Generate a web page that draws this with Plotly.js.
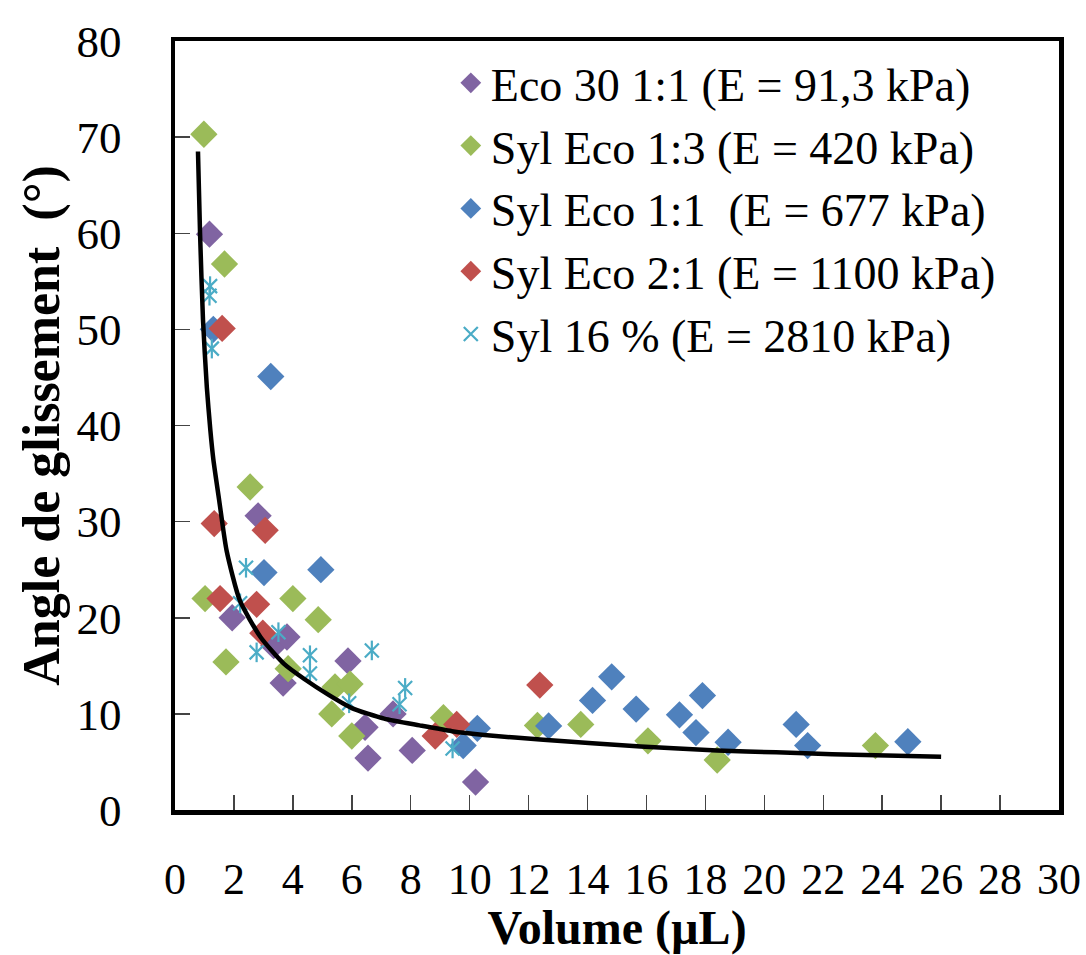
<!DOCTYPE html>
<html>
<head>
<meta charset="utf-8">
<script src="https://cdn.plot.ly/plotly-3.0.1.min.js"></script>
<style>html,body{margin:0;padding:0;background:#fff;}#chart{width:1086px;height:955px;}</style>
</head>
<body>
<div id="chart"></div>
<script>
// Series names
const seriesNames = [
  "Eco 30 1:1 (E = 91,3 kPa)",
  "Syl Eco 1:3 (E = 420 kPa)",
  "Syl Eco 1:1  (E = 677 kPa)",
  "Syl Eco 2:1 (E = 1100 kPa)",
  "Syl 16 % (E = 2810 kPa)"
];

// Eco 30 1:1
const purpleX = [1.17, 2.82, 1.94, 3.35, 3.8, 3.67, 5.87, 6.45, 6.55, 8.05, 7.4, 10.2];
const purpleY = [59.9, 30.6, 20.0, 17.1, 18.0, 13.2, 15.5, 8.6, 5.4, 6.2, 10.0, 2.9];

// Syl Eco 1:3
const greenX = [0.98, 1.68, 2.55, 1.02, 1.73, 4.0, 4.86, 3.84, 5.43, 5.94, 5.32, 6.0, 9.11, 12.3, 13.77, 16.05, 18.4, 23.77];
const greenY = [70.3, 56.8, 33.6, 22.0, 15.4, 22.0, 19.8, 14.7, 12.8, 13.1, 10.0, 7.7, 9.6, 8.8, 8.9, 7.2, 5.2, 6.7];

// Syl Eco 1:1
const blueX = [1.3, 3.25, 3.02, 4.95, 9.78, 10.26, 12.68, 14.17, 14.82, 15.65, 17.12, 17.68, 17.9, 18.77, 21.08, 21.47, 24.87];
const blueY = [50.0, 45.1, 24.7, 25.0, 6.7, 8.5, 8.75, 11.4, 13.85, 10.5, 9.9, 8.05, 11.9, 7.05, 8.9, 6.7, 7.1];

// Syl Eco 2:1
const redX = [1.6, 1.33, 3.06, 1.53, 2.77, 2.98, 8.83, 9.56, 12.38];
const redY = [50.1, 29.8, 29.1, 22.0, 21.4, 18.4, 7.7, 8.9, 13.0];

// Syl 16 %
const starX = [1.19, 1.17, 1.25, 2.41, 2.21, 2.77, 3.51, 4.58, 4.58, 6.68, 5.91, 7.81, 7.62, 9.42];
const starY = [54.5, 53.5, 48.0, 25.2, 21.5, 16.4, 18.5, 16.1, 14.2, 16.6, 11.1, 12.7, 11.0, 6.4];

// Fitted curve (black line)
const curveX = [0.78, 0.85, 0.95, 1.08, 1.2, 1.3, 1.5, 1.75, 2.2, 2.9, 3.7, 4.4, 5.2, 6.0, 7.1, 8.3, 9.4, 10.5, 12.5, 15.8, 18.4, 20.4, 22.3, 26.0];
const curveY = [68.5, 60.0, 51.0, 44.0, 39.5, 36.5, 32.2, 27.0, 21.8, 18.0, 15.2, 13.6, 12.0, 10.6, 9.5, 8.8, 8.2, 7.8, 7.3, 6.6, 6.2, 6.0, 5.8, 5.55];

// Axis ticks
const xTicks = [0, 2, 4, 6, 8, 10, 12, 14, 16, 18, 20, 22, 24, 26, 28, 30];
const yTicks = [0, 10, 20, 30, 40, 50, 60, 70, 80];

const colors = ["#8064A2", "#9BBB59", "#4F81BD", "#C0504D", "#4BACC6"];
const FONT = "'Liberation Serif', 'Times New Roman', serif";
const dSize = 21;

function diamonds(x, y, i) {
  return {x: x, y: y, type: "scatter", mode: "markers", name: seriesNames[i],
    marker: {symbol: "diamond", size: dSize, color: colors[i], line: {width: 0}}};
}

const traces = [
  diamonds(purpleX, purpleY, 0),
  diamonds(greenX, greenY, 1),
  diamonds(blueX, blueY, 2),
  diamonds(redX, redY, 3),
  {x: starX, y: starY, type: "scatter", mode: "markers", name: seriesNames[4], legendgroup: "star",
    marker: {symbol: "x-thin-open", size: 14, color: colors[4], line: {width: 2.2, color: colors[4]}}},
  {x: starX, y: starY, type: "scatter", mode: "markers", showlegend: false, legendgroup: "star",
    marker: {symbol: "line-ns-open", size: 14, color: colors[4], line: {width: 2.2, color: colors[4]}}},
  {x: curveX, y: curveY, type: "scatter", mode: "lines", showlegend: false,
    line: {color: "#000", width: 4.5, shape: "spline", smoothing: 0.6}}
];

const layout = {
  width: 1086, height: 955,
  paper_bgcolor: "#fff", plot_bgcolor: "#fff",
  margin: {l: 175, r: 27, t: 41, b: 145},
  font: {family: FONT, color: "#000"},
  showlegend: true,
  legend: {x: 0.312, y: 0.993, xanchor: "left", yanchor: "top", bgcolor: "rgba(0,0,0,0)",
    font: {family: FONT, size: 46, color: "#000"}, tracegroupgap: 0, itemwidth: 30},
  xaxis: {range: [0, 30], tickvals: xTicks, ticktext: xTicks.map(String),
    showline: true, linewidth: 4.5, linecolor: "#000", mirror: true,
    ticks: "inside", ticklen: 15, tickwidth: 1.5, tickcolor: "#444",
    showgrid: false, zeroline: false, ticklabelstandoff: 27,
    tickfont: {family: FONT, size: 44, color: "#000"},
    title: {text: "<b>Volume (µL)</b>", font: {family: FONT, size: 48, color: "#000"}, standoff: 14}},
  yaxis: {range: [0, 80], tickvals: yTicks, ticktext: yTicks.map(String),
    showline: true, linewidth: 4.5, linecolor: "#000", mirror: true,
    ticks: "inside", ticklen: 15, tickwidth: 1.5, tickcolor: "#444",
    showgrid: false, zeroline: false, ticklabelstandoff: 40,
    tickfont: {family: FONT, size: 45, color: "#000"},
    title: {text: "<b>Angle de glissement\u00a0 (°)</b>", font: {family: FONT, size: 52, color: "#000"}, standoff: 2}}
};

Plotly.newPlot("chart", traces, layout, {displayModeBar: false, staticPlot: true});
</script>
</body>
</html>
